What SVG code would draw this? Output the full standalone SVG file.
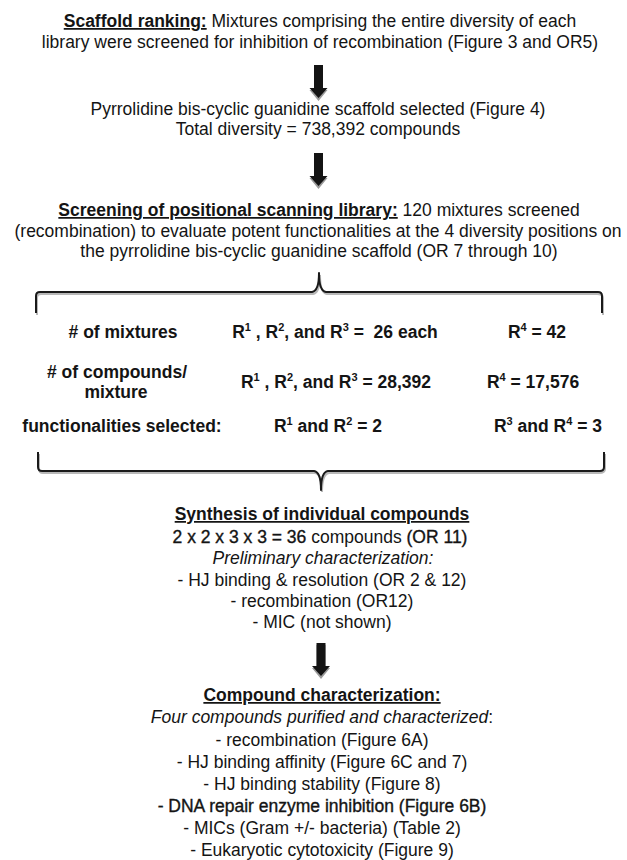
<svg xmlns="http://www.w3.org/2000/svg" width="627" height="860" viewBox="0 0 627 860">
<style>
text{font-family:"Liberation Sans",Arial,sans-serif;font-size:17.5px;fill:#141414;text-anchor:middle}
.b{font-weight:bold}
.u{text-decoration:underline}
.i{font-style:italic}
.dk{stroke:#141414;stroke-width:0.35}
.sup{font-size:11px}
.arrow{fill:#141414}
.ash{fill:#9a9a9a}
.brace{fill:none;stroke:#1a1a1a;stroke-width:2;stroke-linejoin:round}
.bsh{fill:none;stroke:#b8b8b8;stroke-width:2}
</style>
<defs>
<g id="arw">
<polygon class="ash" points="-4.5,2 4.5,2 4.5,25 9,25 0,36 -9,25 -4.5,25"/>
<polygon class="arrow" points="-4.5,0 4.5,0 4.5,23 9,23 0,33 -9,23 -4.5,23"/>
</g>
</defs>

<g id="scaffold-ranking">
<text x="320" y="27"><tspan class="b u">Scaffold ranking:</tspan> Mixtures comprising the entire diversity of each</text>
<text x="320" y="48">library were screened for inhibition of recombination (Figure 3 and OR5)</text>
</g>

<g id="scaffold-selected">
<text x="318" y="115">Pyrrolidine bis-cyclic guanidine scaffold selected (Figure 4)</text>
<text x="318" y="135">Total diversity = 738,392 compounds</text>
</g>

<g id="positional-scanning">
<text x="319" y="216"><tspan class="b u">Screening of positional scanning library:</tspan> 120 mixtures screened</text>
<text x="318" y="237">(recombination) to evaluate potent functionalities at the 4 diversity positions on</text>
<text x="319" y="257">the pyrrolidine bis-cyclic guanidine scaffold (OR 7 through 10)</text>
</g>

<g id="table">
<text class="b" x="123" y="338"># of mixtures</text>
<text class="b" x="335" y="338">R<tspan class="sup" dy="-7">1</tspan><tspan dy="7"> , R</tspan><tspan class="sup" dy="-7">2</tspan><tspan dy="7">, and R</tspan><tspan class="sup" dy="-7">3</tspan><tspan dy="7"> =&#160; 26 each</tspan></text>
<text class="b" x="537" y="338">R<tspan class="sup" dy="-7">4</tspan><tspan dy="7"> = 42</tspan></text>
<text class="b" x="117" y="378"># of compounds/</text>
<text class="b" x="116" y="398">mixture</text>
<text class="b" x="336" y="388">R<tspan class="sup" dy="-7">1</tspan><tspan dy="7"> , R</tspan><tspan class="sup" dy="-7">2</tspan><tspan dy="7">, and R</tspan><tspan class="sup" dy="-7">3</tspan><tspan dy="7"> = 28,392</tspan></text>
<text class="b" x="533" y="388">R<tspan class="sup" dy="-7">4</tspan><tspan dy="7"> = 17,576</tspan></text>
<text class="b" x="122" y="432">functionalities selected:</text>
<text class="b" x="328" y="432">R<tspan class="sup" dy="-7">1</tspan><tspan dy="7"> and R</tspan><tspan class="sup" dy="-7">2</tspan><tspan dy="7"> = 2</tspan></text>
<text class="b" x="548" y="432">R<tspan class="sup" dy="-7">3</tspan><tspan dy="7"> and R</tspan><tspan class="sup" dy="-7">4</tspan><tspan dy="7"> = 3</tspan></text>
</g>

<g id="synthesis">
<text x="322" y="520"><tspan class="b u">Synthesis of individual compounds</tspan></text>
<text x="320" y="543"><tspan class="dk">2 x 2 x 3 x 3 = 36</tspan> compounds <tspan class="dk">(OR 11)</tspan></text>
<text class="i" x="323" y="564">Preliminary characterization:</text>
<text x="322" y="586">- HJ binding &amp; resolution (OR 2 &amp; 12)</text>
<text x="322" y="607">- recombination (OR12)</text>
<text x="322" y="628">- MIC (not shown)</text>
</g>

<g id="compound-characterization">
<text x="322" y="701"><tspan class="b u">Compound characterization:</tspan></text>
<text x="322" y="723"><tspan class="i">Four compounds purified and characterized</tspan>:</text>
<text x="322" y="745.5">- recombination (Figure 6A)</text>
<text x="322" y="767.5">- HJ binding affinity (Figure 6C and 7)</text>
<text x="322" y="789.5">- HJ binding stability (Figure 8)</text>
<text class="dk" x="322" y="811.5">- DNA repair enzyme inhibition (Figure 6B)</text>
<text x="322" y="833.5">- MICs (Gram +/- bacteria) (Table 2)</text>
<text x="322" y="855.5">- Eukaryotic cytotoxicity (Figure 9)</text>
</g>

<g id="connectors">
<use href="#arw" x="318.5" y="65"/>
<use href="#arw" x="318.5" y="153"/>
<use href="#arw" x="321" y="643"/>
<path class="bsh" d="M37,315 L37,298 Q37,294 41,294 L313,294 Q320,293 320,275 Q320,293 327,294 L597,294 Q603,294 603,298 L603,315"/>
<path class="brace" d="M36,313 L36,296 Q36,292 40,292 L312,292 Q319,291 319,273 Q319,291 326,292 L598,292 Q602,292 602,296 L602,313"/>
<path class="bsh" d="M39,454 L39,469 Q39,473 43,473 L315,473 Q322,474 322,492 Q322,474 329,473 L599,473 Q605,473 605,469 L605,454"/>
<path class="brace" d="M38,452 L38,467 Q38,471 42,471 L314,471 Q321,472 321,490 Q321,472 328,471 L600,471 Q604,471 604,467 L604,452"/>
</g>
</svg>
